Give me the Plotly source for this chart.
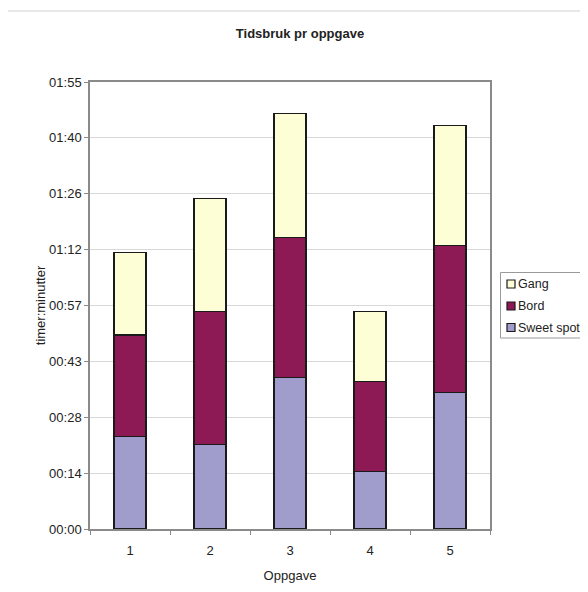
import plotly.graph_objects as go

categories = [1, 2, 3, 4, 5]
sweet_spot = [23.8, 21.8, 39.0, 14.8, 35.1]   # minutes
bord = [26.2, 34.2, 36.1, 23.3, 38.0]
gang = [21.3, 29.2, 32.0, 17.9, 30.9]

series_names = ["Sweet spot", "Bord", "Gang"]
series_colors = ["#A09CCC", "#8E1A55", "#FEFED6"]

ytick_vals = [0, 14.4, 28.8, 43.2, 57.6, 72.0, 86.4, 100.8, 115.2]
ytick_text = ["00:00", "00:14", "00:28", "00:43", "00:57", "01:12", "01:26", "01:40", "01:55"]

# page has an 8px body margin; figure is sized/positioned to compensate
OFF = 8
W, H = 588 - 2 * OFF, 592 - 2 * OFF
L, T = 90 - OFF, 82 - OFF
pw, ph = 400, 447
R, B = W - L - pw, H - T - ph

font = "Liberation Sans, Arial, sans-serif"
line = dict(color="#1a1a1a", width=1.2)


def px_x(p):  # page pixel -> paper x
    return (p - OFF - L) / pw


def px_y(p):  # page pixel -> paper y
    return (T + ph - (p - OFF)) / ph


fig = go.Figure()
for name, vals, col in zip(series_names, [sweet_spot, bord, gang], series_colors):
    fig.add_trace(go.Bar(x=categories, y=vals, name=name,
                         marker=dict(color=col, line=line), showlegend=False))

# legend drawn manually (Excel style: small squares, tight text)
shapes = [
    dict(type="rect", xref="paper", yref="paper",
         x0=px_x(7), x1=px_x(600), y0=px_y(600), y1=px_y(11),
         line=dict(color="#CFCFCF", width=1), layer="below"),
    dict(type="rect", xref="paper", yref="paper",
         x0=px_x(500.5), x1=px_x(600), y0=px_y(338), y1=px_y(272.5),
         line=dict(color="#9A9A9A", width=1), fillcolor="white"),
]
annotations = []
legend_y = {"Gang": 284, "Bord": 306, "Sweet spot": 327.5}
for name, col in zip(series_names, series_colors):
    yc = legend_y[name]
    shapes.append(dict(type="rect", xref="paper", yref="paper",
                       x0=px_x(507), x1=px_x(515), y0=px_y(yc + 4), y1=px_y(yc - 4),
                       line=dict(color="#1a1a1a", width=1.2), fillcolor=col))
    annotations.append(dict(text=name, xref="paper", yref="paper",
                            x=px_x(516), y=px_y(yc), xanchor="left", yanchor="middle",
                            showarrow=False, font=dict(size=12.5, color="#222")))

fig.update_layout(
    width=W, height=H,
    margin=dict(l=L, r=R, t=T, b=B, autoexpand=False),
    barmode="stack", bargap=0.6,
    paper_bgcolor="white", plot_bgcolor="white",
    font=dict(family=font, size=13, color="#222"),
    title=dict(text="<b>Tidsbruk pr oppgave</b>", x=(300 - OFF) / W, xanchor="center",
               y=1 - (33 - OFF) / H, yanchor="middle", font=dict(size=13, color="#222")),
    showlegend=False,
    xaxis=dict(range=[0.5, 5.5], tickvals=categories, ticktext=[str(c) for c in categories],
               ticks="", showgrid=False, showline=True, linecolor="#8A8A8A", linewidth=1.5,
               mirror=True, zeroline=False, ticklabelstandoff=9,
               minor=dict(tickvals=[0.5, 1.5, 2.5, 3.5, 4.5, 5.5], ticks="outside",
                          ticklen=4, tickcolor="#8A8A8A"),
               title=dict(text="Oppgave", font=dict(size=13), standoff=14)),
    yaxis=dict(range=[0, 115.2], tickvals=ytick_vals, ticktext=ytick_text,
               ticks="outside", ticklen=4, tickcolor="#8A8A8A",
               showgrid=True, gridcolor="#D8D8D8", gridwidth=1,
               showline=True, linecolor="#8A8A8A", linewidth=1.5, mirror=True,
               zeroline=False,
               title=dict(text="timer:minutter", font=dict(size=13), standoff=1)),
    shapes=shapes,
    annotations=annotations,
)

fig.write_html("out.html")
